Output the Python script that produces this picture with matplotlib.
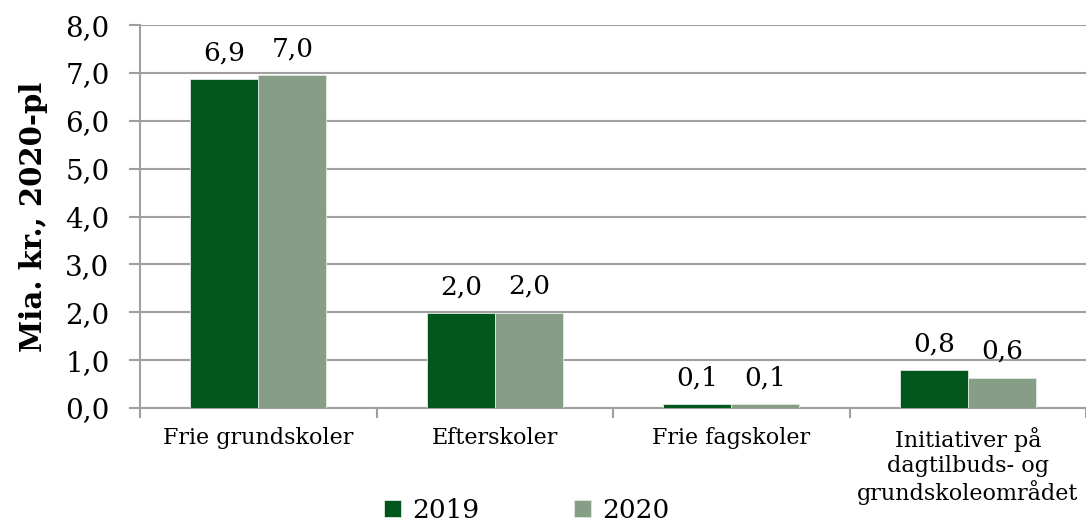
import numpy as np
import matplotlib.pyplot as plt
from matplotlib.ticker import MultipleLocator, FixedLocator

categories = ["Frie grundskoler", "Efterskoler", "Frie fagskoler",
              "Initiativer på\ndagtilbuds- og\ngrundskoleområdet"]
v2019 = [6.87, 1.98, 0.08, 0.79]
v2020 = [6.95, 1.99, 0.08, 0.63]
lab2019 = ["6,9", "2,0", "0,1", "0,8"]
lab2020 = ["7,0", "2,0", "0,1", "0,6"]

plt.rcParams['font.family'] = ['DejaVu Serif']

c19 = "#00561b"
c20 = "#869e86"
grid_c = "#a0a0a0"

fig = plt.figure(figsize=(10.86, 5.25), dpi=100)
ax = fig.add_axes([0.129, 0.223, 0.871, 0.729])

x = np.arange(len(categories))
w = 0.288
b1 = ax.bar(x - w / 2, v2019, w, color=c19, edgecolor="#e0e8e0", linewidth=0.6, label="2019", zorder=3)
b2 = ax.bar(x + w / 2, v2020, w, color=c20, edgecolor="#e0e8e0", linewidth=0.6, label="2020", zorder=3)

for bars, labs in ((b1, lab2019), (b2, lab2020)):
    for r, t in zip(bars, labs):
        ax.annotate(t, (r.get_x() + r.get_width() / 2, r.get_height()),
                    xytext=(0, 10), textcoords="offset points",
                    ha="center", va="bottom", fontsize=19)

ax.set_ylim(0, 8)
ax.set_xlim(-0.5, 3.5)
ax.yaxis.set_major_locator(MultipleLocator(1))
ax.set_yticklabels([f"{v:.1f}".replace(".", ",") for v in ax.get_yticks()], fontsize=20)
ax.yaxis.grid(True, color=grid_c, linewidth=1.5, zorder=0)
ax.set_axisbelow(True)

ax.xaxis.set_major_locator(FixedLocator([-0.5, 0.5, 1.5, 2.5, 3.5]))
ax.xaxis.set_major_formatter(plt.NullFormatter())
ax.xaxis.set_minor_locator(FixedLocator(x))
ax.set_xticklabels(categories, minor=True, fontsize=16, linespacing=1.15, va="top")
ax.tick_params(axis="x", which="minor", length=0, pad=14)
ax.tick_params(axis="x", which="major", length=7, width=1.5, color=grid_c)
ax.tick_params(axis="y", length=8, width=1.5, color=grid_c, pad=14)

for s in ("top", "right"):
    ax.spines[s].set_visible(False)
for s in ("left", "bottom"):
    ax.spines[s].set_color(grid_c)
    ax.spines[s].set_linewidth(1.5)

ax.set_ylabel("Mia. kr., 2020-pl", fontsize=21, fontweight="bold", labelpad=12)

fig.legend(handles=[b1, b2], loc="center", bbox_to_anchor=(0.485, 0.028), ncol=2,
           frameon=False, fontsize=19, handlelength=0.65, handleheight=0.65,
           handletextpad=0.4, columnspacing=3.6)

fig.savefig("out.png", dpi=100)
